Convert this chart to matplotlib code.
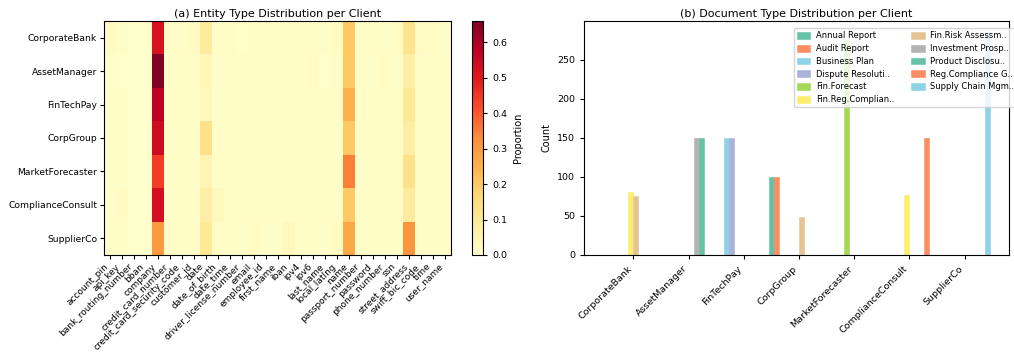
import numpy as np
import matplotlib
matplotlib.use("Agg")
import matplotlib.pyplot as plt

clients = ["CorporateBank", "AssetManager", "FinTechPay", "CorpGroup",
           "MarketForecaster", "ComplianceConsult", "SupplierCo"]

entity_types = ["account_pin", "api_key", "bank_routing_number", "bban", "company",
                "credit_card_number", "credit_card_security_code", "customer_id", "date",
                "date_of_birth", "date_time", "driver_license_number", "email",
                "employee_id", "first_name", "iban", "ipv4", "ipv6", "last_name",
                "local_latlng", "name", "passport_number", "password", "phone_number",
                "ssn", "street_address", "swift_bic_code", "time", "user_name"]

# proportion of each entity type per client (rows follow `clients`)
entity_props = np.array([
    [0.02, 0.01, 0.00, 0.00, 0.52, 0.01, 0.01, 0.02, 0.09, 0.01, 0.01, 0.00, 0.01, 0.01, 0.01,
     0.01, 0.01, 0.01, 0.01, 0.02, 0.20, 0.01, 0.01, 0.01, 0.02, 0.12, 0.02, 0.02, 0.01],
    [0.01, 0.00, 0.00, 0.00, 0.66, 0.01, 0.01, 0.01, 0.04, 0.01, 0.01, 0.01, 0.01, 0.01, 0.01,
     0.01, 0.01, 0.02, 0.00, 0.01, 0.20, 0.01, 0.01, 0.02, 0.01, 0.08, 0.01, 0.01, 0.01],
    [0.01, 0.01, 0.00, 0.00, 0.57, 0.01, 0.01, 0.01, 0.03, 0.01, 0.01, 0.01, 0.01, 0.01, 0.01,
     0.01, 0.01, 0.01, 0.01, 0.01, 0.25, 0.01, 0.01, 0.01, 0.01, 0.10, 0.01, 0.01, 0.01],
    [0.01, 0.01, 0.00, 0.00, 0.54, 0.01, 0.01, 0.01, 0.13, 0.01, 0.01, 0.01, 0.01, 0.01, 0.01,
     0.01, 0.01, 0.01, 0.01, 0.01, 0.20, 0.01, 0.01, 0.01, 0.01, 0.08, 0.01, 0.01, 0.01],
    [0.01, 0.01, 0.00, 0.00, 0.44, 0.01, 0.01, 0.01, 0.05, 0.01, 0.01, 0.01, 0.01, 0.01, 0.01,
     0.01, 0.01, 0.01, 0.01, 0.01, 0.35, 0.01, 0.01, 0.01, 0.01, 0.13, 0.01, 0.01, 0.01],
    [0.01, 0.02, 0.00, 0.00, 0.53, 0.01, 0.01, 0.01, 0.07, 0.03, 0.01, 0.01, 0.01, 0.01, 0.01,
     0.01, 0.01, 0.01, 0.01, 0.01, 0.20, 0.01, 0.01, 0.01, 0.01, 0.09, 0.01, 0.01, 0.01],
    [0.01, 0.01, 0.00, 0.00, 0.30, 0.01, 0.01, 0.01, 0.10, 0.01, 0.01, 0.01, 0.02, 0.01, 0.01,
     0.03, 0.01, 0.01, 0.01, 0.02, 0.27, 0.01, 0.01, 0.01, 0.01, 0.31, 0.01, 0.01, 0.01],
])

doc_types = ["Annual Report", "Audit Report", "Business Plan", "Dispute Resoluti..",
             "Fin.Forecast", "Fin.Reg.Complian..", "Fin.Risk Assessm..", "Investment Prosp..",
             "Product Disclosu..", "Reg.Compliance G..", "Supply Chain Mgm.."]

# document counts per client (rows follow `clients`, columns follow `doc_types`)
doc_counts = np.array([
    [0,   0,   0,   0,   0,   80,  75,  0,   0,   0,   0],
    [0,   0,   0,   0,   0,   0,   0,   150, 150, 0,   0],
    [0,   0,   150, 150, 0,   0,   0,   0,   0,   0,   0],
    [100, 100, 0,   0,   0,   0,   49,  0,   0,   0,   0],
    [0,   0,   0,   0,   275, 0,   0,   0,   0,   0,   0],
    [0,   0,   0,   0,   0,   77,  0,   0,   0,   150, 0],
    [0,   0,   0,   0,   0,   0,   0,   0,   0,   0,   285],
])

palette = ["#66c2a5", "#fc8d62", "#8dd3e8", "#abb1d9",
           "#a6d854", "#fcee6c", "#e5c494", "#b3b3b3"]

fig = plt.figure(figsize=(10.14, 3.54), dpi=100)

# (a) heatmap of entity proportions
ax1 = fig.add_axes([0.1026, 0.2797, 0.3422, 0.661])
im = ax1.imshow(entity_props, cmap="YlOrRd", aspect="auto", vmin=0,
                vmax=entity_props.max(), interpolation="nearest")
ax1.set_xticks(np.arange(len(entity_types)))
ax1.set_xticklabels(entity_types, rotation=45, ha="right", fontsize=6.5)
ax1.set_yticks(np.arange(len(clients)))
ax1.set_yticklabels(clients, fontsize=6.6)
ax1.set_title("(a) Entity Type Distribution per Client", fontsize=8, pad=3)
ax1.tick_params(length=3, pad=2)

cax = fig.add_axes([0.4655, 0.2797, 0.0108, 0.661])
cb = fig.colorbar(im, cax=cax)
cb.set_label("Proportion", fontsize=7)
cb.ax.tick_params(labelsize=6.8, length=3)

# (b) grouped bars of document counts
ax2 = fig.add_axes([0.576, 0.2797, 0.419, 0.661])
n = len(doc_types)
width = 1.0 / n
x = np.arange(len(clients))
for j, name in enumerate(doc_types):
    color = palette[j % len(palette)]
    ax2.bar(x + (j - n / 2) * width, doc_counts[:, j], width, color=color,
            edgecolor=color, linewidth=0.4, label=name)
ax2.set_ylim(0, doc_counts.max() * 1.05)
ax2.set_xticks(x)
ax2.set_xticklabels(clients, rotation=45, ha="right", fontsize=6.8)
ax2.tick_params(axis="y", labelsize=6.8, length=3)
ax2.tick_params(axis="x", length=3)
ax2.set_ylabel("Count", fontsize=7)
ax2.set_title("(b) Document Type Distribution per Client", fontsize=8, pad=3)
ax2.legend(ncol=2, fontsize=6, loc="upper right", bbox_to_anchor=(1.021, 0.97),
           handlelength=1.6, handleheight=0.9, handletextpad=0.7,
           labelspacing=0.45, columnspacing=2.0, borderaxespad=0.0,
           framealpha=0.8)

fig.savefig("out.png", dpi=100)
